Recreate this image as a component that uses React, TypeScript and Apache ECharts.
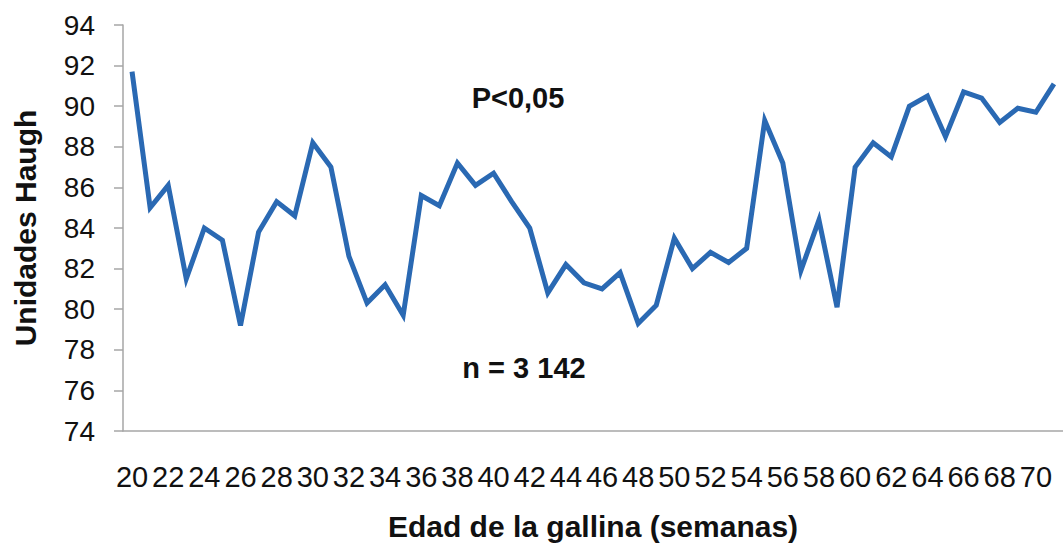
import React, { useEffect, useRef } from "react";
import * as echarts from "echarts";

const weeks: string[] = [
  "20","21","22","23","24","25","26","27","28","29",
  "30","31","32","33","34","35","36","37","38","39",
  "40","41","42","43","44","45","46","47","48","49",
  "50","51","52","53","54","55","56","57","58","59",
  "60","61","62","63","64","65","66","67","68","69",
  "70","71",
];

const haughUnits: number[] = [
  91.7, 85.0, 86.1, 81.5, 84.0, 83.4, 79.2, 83.8, 85.3, 84.6,
  88.2, 87.0, 82.6, 80.3, 81.2, 79.7, 85.6, 85.1, 87.2, 86.1,
  86.7, 85.3, 84.0, 80.8, 82.2, 81.3, 81.0, 81.8, 79.3, 80.2,
  83.5, 82.0, 82.8, 82.3, 83.0, 89.3, 87.2, 81.9, 84.4, 80.1,
  87.0, 88.2, 87.5, 90.0, 90.5, 88.5, 90.7, 90.4, 89.2, 89.9,
  89.7, 91.1,
];

const yMin = 74;
const yMax = 94;
const yStep = 2;

const xTitle = "Edad de la gallina (semanas)";
const yTitle = "Unidades Haugh";
const noteP = "P<0,05";
const noteN = "n = 3 142";

const FONT = "'Liberation Sans', Arial, sans-serif";

export default function App() {
  const ref = useRef<HTMLDivElement>(null);

  useEffect(() => {
    if (!ref.current) return;
    const chart = echarts.init(ref.current, undefined, { renderer: "svg" });
    chart.setOption({
      animation: false,
      backgroundColor: "#ffffff",
      textStyle: { fontFamily: FONT },
      grid: { left: 123, right: -10, top: 25, bottom: 116, containLabel: false },
      xAxis: {
        type: "category",
        data: weeks,
        boundaryGap: true,
        axisLine: { show: true, lineStyle: { color: "#a6a6a6", width: 1.5 } },
        axisTick: { show: false },
        axisLabel: {
          interval: 1,
          fontSize: 29,
          color: "#111111",
          fontFamily: FONT,
          margin: 31,
        },
        splitLine: { show: false },
        name: xTitle,
        nameLocation: "middle",
        nameGap: 80,
        nameTextStyle: {
          fontSize: 30,
          fontWeight: "bold",
          color: "#111111",
          fontFamily: FONT,
        },
      },
      yAxis: {
        type: "value",
        min: yMin,
        max: yMax,
        interval: yStep,
        axisLine: { show: true, lineStyle: { color: "#a6a6a6", width: 1.5 } },
        axisTick: { show: true, inside: false, length: 9, lineStyle: { color: "#a6a6a6", width: 1.5 } },
        axisLabel: {
          fontSize: 28,
          color: "#111111",
          fontFamily: FONT,
          margin: 28,
        },
        splitLine: { show: false },
        name: yTitle,
        nameLocation: "middle",
        nameGap: 83,
        nameRotate: 90,
        nameTextStyle: {
          fontSize: 30,
          fontWeight: "bold",
          color: "#111111",
          fontFamily: FONT,
        },
      },
      series: [
        {
          type: "line",
          data: haughUnits,
          symbol: "none",
          lineStyle: { color: "#2a69b3", width: 5, join: "miter" },
          itemStyle: { color: "#2a69b3" },
        },
      ],
      graphic: [
        {
          type: "text",
          x: 518,
          y: 98,
          style: {
            text: noteP,
            font: `bold 29px ${FONT}`,
            fill: "#111111",
            textAlign: "center",
            textVerticalAlign: "middle",
          },
        },
        {
          type: "text",
          x: 524,
          y: 368,
          style: {
            text: noteN,
            font: `bold 29px ${FONT}`,
            fill: "#111111",
            textAlign: "center",
            textVerticalAlign: "middle",
          },
        },
      ],
    });
    return () => chart.dispose();
  }, []);

  return (
    <div
      ref={ref}
      style={{ position: "fixed", left: 0, top: 0, width: 1063, height: 547, background: "#fff" }}
    />
  );
}
